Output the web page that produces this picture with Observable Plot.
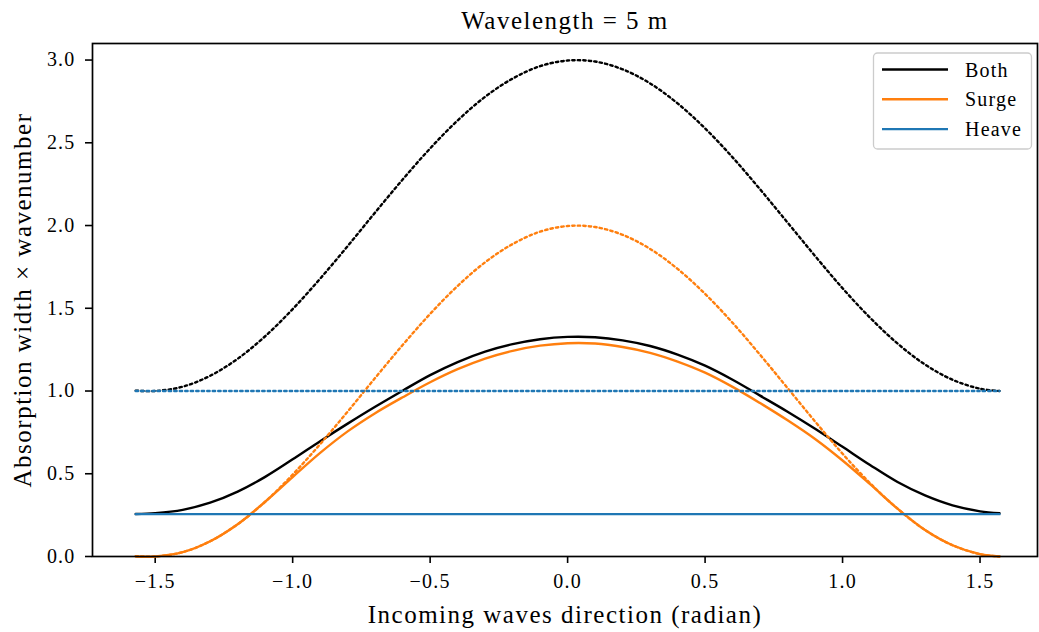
<!DOCTYPE html>
<html>
<head>
<meta charset="utf-8">
<script src="https://cdn.jsdelivr.net/npm/d3@7"></script>
<script src="https://cdn.jsdelivr.net/npm/@observablehq/plot@0.6"></script>
<style>
  body { margin: 0; background: #fff; }
  svg text { letter-spacing: 0.06em; }
</style>
</head>
<body>
<div id="chart"></div>
<script>
// Incoming wave direction (radian)
const theta = [-1.5708, -1.5, -1.4, -1.3, -1.2, -1.1, -1.0, -0.9, -0.8, -0.7, -0.6, -0.5, -0.4, -0.3, -0.2, -0.1,
  0.0, 0.1, 0.2, 0.3, 0.4, 0.5, 0.6, 0.7, 0.8, 0.9, 1.0, 1.1, 1.2, 1.3, 1.4, 1.5, 1.5708];

// Absorption width x wavenumber, achieved (solid)
const bothSolid = [0.257, 0.262, 0.282, 0.325, 0.392, 0.481, 0.587, 0.697, 0.803, 0.905, 1.002, 1.096, 1.175, 1.238, 1.283, 1.313,
  1.327, 1.325, 1.306, 1.272, 1.220, 1.153, 1.068, 0.972, 0.875, 0.772, 0.663, 0.553, 0.450, 0.369, 0.309, 0.273, 0.261];
const surgeSolid = [0.000, 0.000, 0.026, 0.092, 0.195, 0.331, 0.480, 0.626, 0.756, 0.866, 0.962, 1.053, 1.132, 1.196, 1.243, 1.274,
  1.289, 1.287, 1.266, 1.231, 1.178, 1.111, 1.025, 0.927, 0.823, 0.710, 0.580, 0.437, 0.289, 0.160, 0.068, 0.014, 0.000];
const heaveSolid = [0.256, 0.256, 0.256, 0.256, 0.256, 0.256, 0.256, 0.256, 0.256, 0.256, 0.256, 0.256, 0.256, 0.256, 0.256, 0.256,
  0.256, 0.256, 0.256, 0.256, 0.256, 0.256, 0.256, 0.256, 0.256, 0.256, 0.256, 0.256, 0.256, 0.256, 0.256, 0.256, 0.256];

// Theoretical maximum (dotted)
const bothDotted = [1.002, 1.000, 1.026, 1.092, 1.195, 1.331, 1.495, 1.679, 1.876, 2.079, 2.278, 2.466, 2.635, 2.778, 2.888, 2.963,
  2.997, 2.991, 2.944, 2.859, 2.738, 2.587, 2.412, 2.219, 2.018, 1.816, 1.621, 1.443, 1.287, 1.160, 1.068, 1.014, 1.000];
const surgeDotted = [0.002, 0.000, 0.026, 0.092, 0.195, 0.331, 0.495, 0.679, 0.876, 1.079, 1.278, 1.466, 1.635, 1.778, 1.888, 1.963,
  1.997, 1.991, 1.944, 1.859, 1.738, 1.587, 1.412, 1.219, 1.018, 0.816, 0.621, 0.443, 0.289, 0.160, 0.068, 0.014, 0.000];
const heaveDotted = [1.0, 1.0, 1.0, 1.0, 1.0, 1.0, 1.0, 1.0, 1.0, 1.0, 1.0, 1.0, 1.0, 1.0, 1.0, 1.0,
  1.0, 1.0, 1.0, 1.0, 1.0, 1.0, 1.0, 1.0, 1.0, 1.0, 1.0, 1.0, 1.0, 1.0, 1.0, 1.0, 1.0];

const seriesNames = ["Both", "Surge", "Heave"];
const seriesColors = ["#000000", "#ff7f0e", "#1f77b4"];

const xTicks = [-1.5, -1.0, -0.5, 0.0, 0.5, 1.0, 1.5];
const yTicks = [0.0, 0.5, 1.0, 1.5, 2.0, 2.5, 3.0];

const titleText = "Wavelength = 5 m";
const xLabel = "Incoming waves direction (radian)";
const yLabel = "Absorption width × wavenumber";

const dotted = "2.4,3.1";

function curve(values, color, dash) {
  return Plot.line(theta, {
    x: theta, y: values, stroke: color, strokeWidth: 2.4,
    strokeDasharray: dash, curve: "catmull-rom"
  });
}

const chart = Plot.plot({
  width: 1039,
  height: 632,
  marginLeft: 92,
  marginRight: 2,
  marginTop: 43,
  marginBottom: 76,
  style: { fontFamily: "'Liberation Serif', serif", fontSize: "20px", color: "black", background: "white" },
  x: { domain: [-1.728, 1.709] },
  y: { domain: [0, 3.1] },
  marks: [
    Plot.axisX({ ticks: xTicks, tickFormat: d3.format(".1f"), tickSize: 7, tickPadding: 10, strokeWidth: 1.6, label: null }),
    Plot.axisY({ ticks: yTicks, tickFormat: d3.format(".1f"), tickSize: 7, tickPadding: 10, strokeWidth: 1.6, label: null }),
    curve(bothSolid, seriesColors[0], null),
    curve(bothDotted, seriesColors[0], dotted),
    curve(surgeSolid, seriesColors[1], null),
    curve(surgeDotted, seriesColors[1], dotted),
    curve(heaveSolid, seriesColors[2], null),
    curve(heaveDotted, seriesColors[2], dotted),
    Plot.frame({ stroke: "black", strokeWidth: 1.7 }),
    Plot.text([titleText], { text: d => d, frameAnchor: "top", lineAnchor: "middle", dy: -23, fontSize: 25 }),
    Plot.text([xLabel], { text: d => d, frameAnchor: "bottom", lineAnchor: "middle", dy: 58, fontSize: 25 }),
    Plot.text([yLabel], { text: d => d, frameAnchor: "left", textAnchor: "middle", lineAnchor: "middle", dx: -70, rotate: -90, fontSize: 25 })
  ]
});

// Legend box in the upper-right corner of the axes
const svg = d3.select(chart);
const legend = svg.append("g");
legend.append("rect")
  .attr("x", 873.5).attr("y", 53).attr("width", 158).attr("height", 96).attr("rx", 4)
  .attr("fill", "white").attr("fill-opacity", 0.8)
  .attr("stroke", "#cccccc").attr("stroke-width", 1.3);
seriesNames.forEach((name, i) => {
  const y = 69.5 + i * 29.8;
  legend.append("line")
    .attr("x1", 882).attr("x2", 948).attr("y1", y).attr("y2", y)
    .attr("stroke", seriesColors[i]).attr("stroke-width", 2.4);
  legend.append("text")
    .attr("x", 965).attr("y", y).attr("dy", "0.35em")
    .attr("text-anchor", "start")
    .attr("font-size", 20).attr("fill", "black")
    .text(name);
});

document.getElementById("chart").appendChild(chart);
</script>
</body>
</html>
